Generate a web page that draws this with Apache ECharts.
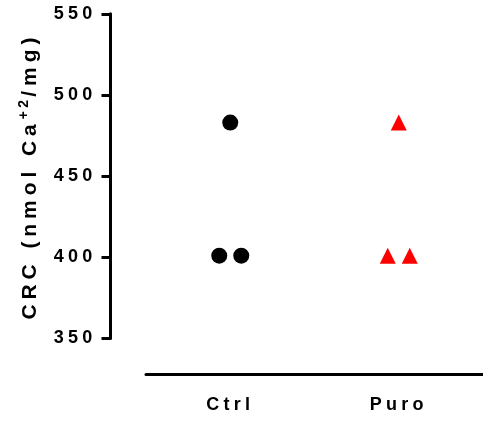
<!DOCTYPE html>
<html><head><meta charset="utf-8">
<script src="https://cdn.jsdelivr.net/npm/echarts@6/dist/echarts.min.js"></script>
<style>html,body{margin:0;padding:0;background:#fff}#c{width:483px;height:421px}</style>
</head><body><div id="c"></div>
<script>
// Emulate the wide letter spacing of the original figure (canvas letterSpacing, proportional to font size)
(function(){
  var P = window.CanvasRenderingContext2D && CanvasRenderingContext2D.prototype;
  if (!P || !('letterSpacing' in P)) return;
  var d = Object.getOwnPropertyDescriptor(P, 'font');
  Object.defineProperty(P, 'font', {configurable:true, enumerable:true,
    get: function(){ return d.get.call(this); },
    set: function(v){ d.set.call(this, v); var m = /(\d+(?:\.\d+)?)px/.exec(v);
      this.letterSpacing = (m ? (parseFloat(m[1]) * 0.235).toFixed(2) : '0') + 'px'; }});
})();

const categories = ['Ctrl', 'Puro'];
const ctrlValues = [483, 401, 401];
const puroValues = [483, 401, 401];
const yMin = 350, yMax = 550, yStep = 50;

const JITTER = [0, -11, 11];
const FONT = '"Liberation Sans", Arial, Helvetica, sans-serif';

function pts(cat, vals) {
  return vals.map((v, i) => ({ value: [cat, v], symbolOffset: [JITTER[i], 0] }));
}

const chart = echarts.init(document.getElementById('c'), null, { renderer: 'canvas' });
chart.setOption({
  animation: false,
  backgroundColor: '#fff',
  grid: { left: 146, top: 13.8, width: 338, height: 324.7, containLabel: false },
  xAxis: {
    type: 'category', data: categories, boundaryGap: true, offset: 35.5,
    axisLine: { lineStyle: { color: '#000', width: 3 } },
    axisTick: { show: false },
    axisLabel: { color: '#000', fontFamily: FONT, fontWeight: 'bold', fontSize: 18, margin: 20 },
    splitLine: { show: false }
  },
  yAxis: {
    type: 'value', min: yMin, max: yMax, interval: yStep, offset: 35.5,
    axisLine: { show: true, lineStyle: { color: '#000', width: 3 } },
    axisTick: { show: true, length: 9, lineStyle: { color: '#000', width: 3 } },
    axisLabel: { color: '#000', fontFamily: FONT, fontWeight: 'bold', fontSize: 18, margin: 14 },
    splitLine: { show: false },
    name: '{a|CRC (nmol Ca}{s|+2}{a|/mg)}',
    nameLocation: 'middle', nameRotate: 90, nameGap: 67,
    nameTextStyle: {
      rich: {
        a: { fontFamily: FONT, fontWeight: 'bold', fontSize: 21, color: '#000', lineHeight: 27, verticalAlign: 'bottom' },
        s: { fontFamily: FONT, fontWeight: 'bold', fontSize: 14, color: '#000', lineHeight: 27, verticalAlign: 'top' }
      }
    }
  },
  series: [
    { name: 'Ctrl', type: 'scatter', symbol: 'circle', symbolSize: 16,
      itemStyle: { color: '#000', opacity: 1 }, data: pts(categories[0], ctrlValues) },
    { name: 'Puro', type: 'scatter', symbol: 'triangle', symbolSize: 16,
      itemStyle: { color: '#ff0000', opacity: 1 }, data: pts(categories[1], puroValues) }
  ]
});
</script></body></html>
